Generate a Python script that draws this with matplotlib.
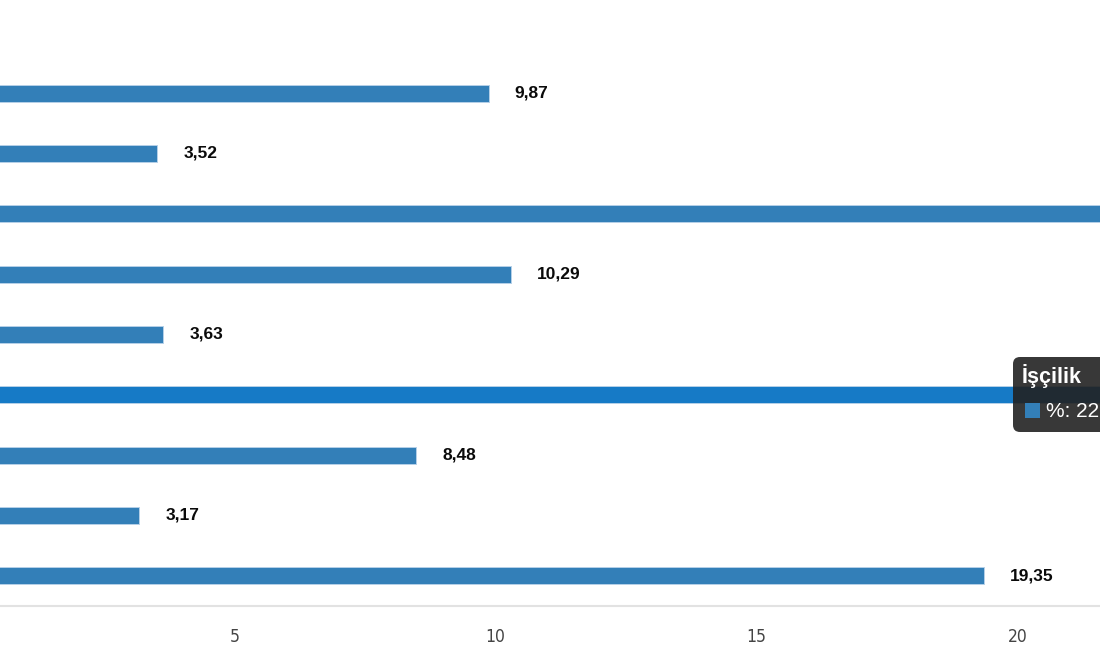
import matplotlib.pyplot as plt
from matplotlib.patches import FancyBboxPatch, Rectangle

categories = ["Kategori 1", "Kategori 2", "Kategori 3", "Kategori 4", "Kategori 5",
              "İşçilik", "Kategori 7", "Kategori 8", "Kategori 9"]
values = [9.87, 3.52, 22.10, 10.29, 3.63, 22.48, 8.48, 3.17, 19.35]
highlight = "İşçilik"
xticks = [5, 10, 15, 20]

BAR = "#337fb8"
BAR_HI = "#167ac6"


def fmt(v):
    return f"{v:.2f}".replace(".", ",")


fig = plt.figure(figsize=(11, 6.5), dpi=100)
ax = fig.add_axes([0, 44 / 650, 1, 543 / 650])

colors = [BAR_HI if c == highlight else BAR for c in categories]
ax.barh(range(len(categories)), values, height=0.28, color=colors,
        edgecolor="#b5d0e8", linewidth=0.7, left=0)

ax.set_xlim(0.504, 21.58)
ax.set_ylim(len(categories) - 0.5, -0.5)

for i, v in enumerate(values):
    ax.annotate(fmt(v), (v, i), xytext=(26, 0), textcoords="offset pixels",
                ha="left", va="center", fontsize=12.5, fontweight="bold",
                family="Liberation Sans", color="#0a0a0a", annotation_clip=True)

ax.set_yticks([])
ax.set_xticks(xticks)
ax.set_xticklabels([str(t) for t in xticks], fontsize=12.5, color="#444444",
                   fontstretch="condensed")
ax.tick_params(axis="x", length=0, pad=16)
for s in ["top", "right", "left"]:
    ax.spines[s].set_visible(False)
ax.spines["bottom"].set_color("#e2e2e2")
ax.spines["bottom"].set_linewidth(1.5)

# tooltip
idx = categories.index(highlight)
tip = FancyBboxPatch((1013, 218), 120, 75, boxstyle="round,pad=0,rounding_size=7",
                     transform=None, facecolor="#222222", edgecolor="none",
                     alpha=0.9, zorder=5)
fig.patches.append(tip)
fig.text(1022 / 1100, (650 - 376) / 650, highlight, color="white",
         fontsize=15.5, fontweight="bold", family="Liberation Sans",
         va="center", ha="left", zorder=6)
fig.patches.append(Rectangle((1025, 650 - 418), 15, 15, transform=None,
                             facecolor=BAR, edgecolor="none", zorder=6))
fig.text(1046 / 1100, (650 - 411) / 650, "%: " + fmt(values[idx]), color="white",
         fontsize=15, family="Liberation Sans", va="center", ha="left", zorder=6)

fig.savefig("out.png", dpi=100)
